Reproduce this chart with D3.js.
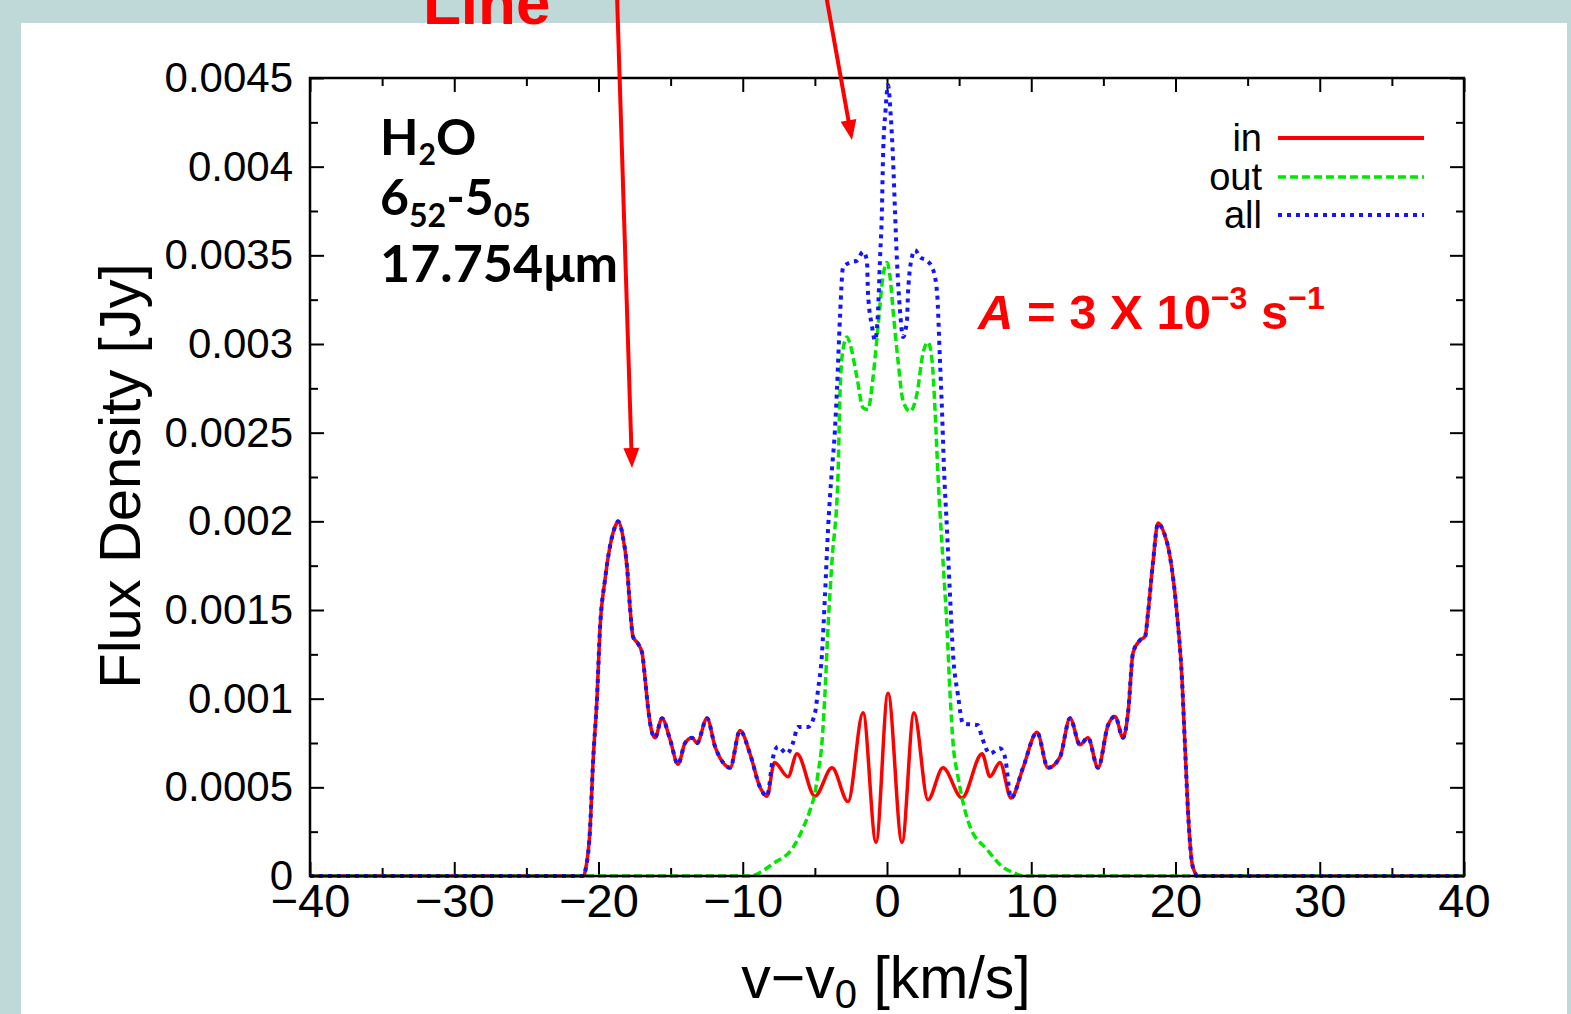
<!DOCTYPE html>
<html>
<head>
<meta charset="utf-8">
<script src="https://cdn.jsdelivr.net/npm/d3@7"></script>
<style>
  html, body { margin: 0; padding: 0; background: #bfd8d8; }
  svg { display: block; }
</style>
</head>
<body>
<svg id="chart" width="1571" height="1014"></svg>
<script>
// H2O 6(52)-5(05) 17.754 µm line profile: flux density vs. velocity offset

// velocity [km/s], flux density [Jy] — emission from inside the snow line
const inSeries = [
  [-40, 0], [-21.0, 0], [-20.94, 0.00002], [-20.59, 0.00026], [-20.38, 0.00064],
  [-20.10, 0.00101], [-19.90, 0.00139], [-19.55, 0.00167], [-19.20, 0.00186],
  [-18.85, 0.00197], [-18.64, 0.00200], [-18.30, 0.00191], [-18.02, 0.00174],
  [-17.82, 0.00152], [-17.61, 0.00135], [-17.26, 0.00131], [-16.98, 0.00126],
  [-16.78, 0.00112], [-16.57, 0.00095], [-16.29, 0.00081], [-16.08, 0.00078],
  [-15.60, 0.00089], [-15.04, 0.00077], [-14.49, 0.00063], [-14.00, 0.00075],
  [-13.52, 0.00078], [-13.17, 0.00075], [-12.48, 0.00089], [-11.92, 0.00073],
  [-11.37, 0.00064], [-10.88, 0.00061], [-10.19, 0.00082], [-9.50, 0.00069],
  [-8.80, 0.00050], [-8.32, 0.00045], [-7.80, 0.00064], [-6.86, 0.00056],
  [-6.24, 0.00069], [-4.99, 0.00045], [-3.81, 0.00061], [-2.70, 0.00042],
  [-1.66, 0.00092], [-0.76, 0.00019], [0.07, 0.00103], [1.04, 0.00019],
  [1.87, 0.00092], [2.84, 0.00043], [3.88, 0.00061], [5.20, 0.00044],
  [6.59, 0.00069], [7.14, 0.00056], [7.83, 0.00064], [8.60, 0.00044],
  [9.43, 0.00061], [10.40, 0.00081], [11.16, 0.00061], [11.99, 0.00067],
  [12.69, 0.00089], [13.38, 0.00074], [13.93, 0.00078], [14.63, 0.00061],
  [15.32, 0.00085], [15.81, 0.00090], [16.36, 0.00078], [16.71, 0.00092],
  [17.06, 0.00126], [17.54, 0.00133], [17.89, 0.00135], [18.09, 0.00148],
  [18.44, 0.00177], [18.79, 0.00199], [19.13, 0.00195], [19.62, 0.00180],
  [20.10, 0.00148], [20.45, 0.00111], [20.66, 0.00073], [20.87, 0.00036],
  [21.15, 0.00007], [21.35, 0.00002], [21.5, 0], [40, 0]
];

// emission from outside the snow line
const outSeries = [
  [-40, 0], [-9.5, 0], [-8.80, 0.00002], [-7.90, 0.00007], [-6.52, 0.00016],
  [-5.82, 0.00027], [-5.30, 0.00038], [-4.99, 0.00047], [-4.78, 0.00058],
  [-4.51, 0.00075], [-4.30, 0.00103], [-4.09, 0.00140], [-3.81, 0.00178],
  [-3.40, 0.00225], [-3.26, 0.00272], [-3.05, 0.00297], [-2.77, 0.00304],
  [-2.56, 0.00300], [-2.08, 0.00281], [-1.66, 0.00264], [-1.32, 0.00263],
  [-0.97, 0.00281], [-0.62, 0.00310], [-0.28, 0.00338], [0, 0.00346],
  [0.21, 0.00338], [0.42, 0.00319], [0.76, 0.00291], [1.11, 0.00268],
  [1.59, 0.00262], [2.08, 0.00272], [2.50, 0.00295], [2.84, 0.00301],
  [3.12, 0.00291], [3.33, 0.00263], [3.54, 0.00225], [3.88, 0.00178],
  [4.16, 0.00140], [4.37, 0.00103], [4.58, 0.00075], [4.92, 0.00056],
  [5.20, 0.00044], [5.75, 0.00028], [6.93, 0.00015], [8.04, 0.00005],
  [8.73, 0.00002], [9.5, 0], [40, 0]
];

// total emission
const allSeries = [
  [-40, 0], [-21.0, 0], [-20.94, 0.00002], [-20.59, 0.00026], [-20.38, 0.00064],
  [-20.10, 0.00101], [-19.90, 0.00139], [-19.55, 0.00167], [-19.20, 0.00186],
  [-18.85, 0.00197], [-18.64, 0.00200], [-18.30, 0.00191], [-18.02, 0.00174],
  [-17.82, 0.00152], [-17.61, 0.00135], [-17.26, 0.00131], [-16.98, 0.00126],
  [-16.78, 0.00112], [-16.57, 0.00095], [-16.29, 0.00081], [-16.08, 0.00078],
  [-15.60, 0.00089], [-15.04, 0.00077], [-14.49, 0.00063], [-14.00, 0.00075],
  [-13.52, 0.00078], [-13.17, 0.00075], [-12.48, 0.00089], [-11.92, 0.00073],
  [-11.37, 0.00064], [-10.88, 0.00061], [-10.19, 0.00082], [-9.50, 0.00069],
  [-8.80, 0.00050], [-8.32, 0.00045], [-7.90, 0.00067], [-7.56, 0.00073],
  [-6.93, 0.00069], [-6.52, 0.00075], [-6.17, 0.00084], [-5.48, 0.00084],
  [-4.99, 0.00092], [-4.78, 0.00105], [-4.51, 0.00125], [-4.30, 0.00158],
  [-4.09, 0.00195], [-3.81, 0.00230], [-3.66, 0.00245], [-3.47, 0.00274],
  [-3.26, 0.00315], [-3.05, 0.00343], [-2.56, 0.00346], [-2.08, 0.00347],
  [-1.66, 0.00352], [-1.39, 0.00347], [-1.32, 0.00329], [-1.04, 0.00310],
  [-0.83, 0.00302], [-0.62, 0.00319], [-0.49, 0.00347], [-0.35, 0.00376],
  [-0.28, 0.00404], [-0.10, 0.00432], [0.07, 0.00446], [0.25, 0.00430],
  [0.42, 0.00404], [0.55, 0.00376], [0.69, 0.00347], [0.90, 0.00319],
  [1.11, 0.00304], [1.39, 0.00314], [1.46, 0.00329], [1.73, 0.00349],
  [1.94, 0.00353], [2.29, 0.00349], [2.77, 0.00347], [3.19, 0.00342],
  [3.47, 0.00329], [3.67, 0.00291], [3.81, 0.00263], [3.95, 0.00230],
  [4.16, 0.00195], [4.37, 0.00158], [4.58, 0.00125], [4.92, 0.00102],
  [5.27, 0.00086], [6.31, 0.00085], [6.59, 0.00078], [7.14, 0.00069],
  [7.83, 0.00072], [8.18, 0.00067], [8.60, 0.00044],
  [9.43, 0.00061], [10.40, 0.00081], [11.16, 0.00061], [11.99, 0.00067],
  [12.69, 0.00089], [13.38, 0.00074], [13.93, 0.00078], [14.63, 0.00061],
  [15.32, 0.00085], [15.81, 0.00090], [16.36, 0.00078], [16.71, 0.00092],
  [17.06, 0.00126], [17.54, 0.00133], [17.89, 0.00135], [18.09, 0.00148],
  [18.44, 0.00177], [18.79, 0.00199], [19.13, 0.00195], [19.62, 0.00180],
  [20.10, 0.00148], [20.45, 0.00111], [20.66, 0.00073], [20.87, 0.00036],
  [21.15, 0.00007], [21.35, 0.00002], [21.5, 0], [40, 0]
];

const seriesNames = ["in", "out", "all"];
const seriesColors = ["#ff0000", "#00e800", "#1414ff"];

const xMajorTicks = [-40, -30, -20, -10, 0, 10, 20, 30, 40];
const xTickLabels = ["\u221240", "\u221230", "\u221220", "\u221210", "0", "10", "20", "30", "40"];
const xMinorTicks = [-35, -25, -15, -5, 5, 15, 25, 35];
const yMajorTicks = [0, 0.0005, 0.001, 0.0015, 0.002, 0.0025, 0.003, 0.0035, 0.004, 0.0045];
const yTickLabels = ["0", "0.0005", "0.001", "0.0015", "0.002", "0.0025", "0.003", "0.0035", "0.004", "0.0045"];
const yMinorTicks = [0.00025, 0.00075, 0.00125, 0.00175, 0.00225, 0.00275, 0.00325, 0.00375, 0.00425];

const svg = d3.select("#chart");

// slide panel
svg.append("rect").attr("x", 0).attr("y", 0).attr("width", 1571).attr("height", 1014).attr("fill", "#bfd8d8");
svg.append("rect").attr("x", 21).attr("y", 23).attr("width", 1546).attr("height", 1000).attr("fill", "#ffffff");

const plot = { left: 310, right: 1464, top: 78, bottom: 876 };
const x = d3.scaleLinear().domain([-40, 40]).range([plot.left, plot.right]);
const y = d3.scaleLinear().domain([0, 0.0045]).range([plot.bottom, plot.top]);

const axisFont = "'Liberation Sans', Arial, Helvetica, sans-serif";

// ticks (inward on all four sides)
function drawAxis(axis, tx, ty) {
  const g = svg.append("g").attr("transform", `translate(${tx},${ty})`).call(axis);
  g.select(".domain").remove();
  g.selectAll(".tick line").attr("stroke", "#000").attr("stroke-width", 2);
  return g;
}
const majLen = 14, minLen = 8;

const xb = drawAxis(d3.axisBottom(x).tickValues(xMajorTicks).tickSize(-majLen)
  .tickFormat((d, i) => xTickLabels[i]).tickPadding(8), 0, plot.bottom);
xb.selectAll("text").attr("font-family", axisFont).attr("font-size", 47).attr("fill", "#000");
drawAxis(d3.axisBottom(x).tickValues(xMinorTicks).tickSize(-minLen).tickFormat(""), 0, plot.bottom);
drawAxis(d3.axisTop(x).tickValues(xMajorTicks).tickSize(-majLen).tickFormat(""), 0, plot.top);
drawAxis(d3.axisTop(x).tickValues(xMinorTicks).tickSize(-minLen).tickFormat(""), 0, plot.top);

const yl = drawAxis(d3.axisLeft(y).tickValues(yMajorTicks).tickSize(-majLen)
  .tickFormat((d, i) => yTickLabels[i]).tickPadding(17), plot.left, 0);
yl.selectAll("text").attr("font-family", axisFont).attr("font-size", 42).attr("fill", "#000");
drawAxis(d3.axisLeft(y).tickValues(yMinorTicks).tickSize(-minLen).tickFormat(""), plot.left, 0);
drawAxis(d3.axisRight(y).tickValues(yMajorTicks).tickSize(-majLen).tickFormat(""), plot.right, 0);
drawAxis(d3.axisRight(y).tickValues(yMinorTicks).tickSize(-minLen).tickFormat(""), plot.right, 0);

// curves
const line = d3.line().x(d => x(d[0])).y(d => y(d[1])).curve(d3.curveMonotoneX);
const styles = [
  { dash: null, width: 3.5 },
  { dash: "8,4", width: 3.5 },
  { dash: "4,5", width: 4 }
];
[inSeries, outSeries, allSeries].forEach((s, i) => {
  svg.append("path").datum(s)
    .attr("d", line)
    .attr("fill", "none")
    .attr("stroke", seriesColors[i])
    .attr("stroke-width", styles[i].width)
    .attr("stroke-dasharray", styles[i].dash)
    .attr("stroke-linejoin", "round");
});

// frame
svg.append("rect")
  .attr("x", plot.left).attr("y", plot.top)
  .attr("width", plot.right - plot.left).attr("height", plot.bottom - plot.top)
  .attr("fill", "none").attr("stroke", "#000").attr("stroke-width", 2.5);

// legend
const legendY = [138, 177, 215];
seriesNames.forEach((name, i) => {
  svg.append("text").attr("x", 1262).attr("y", legendY[i] + 13)
    .attr("text-anchor", "end").attr("font-family", axisFont).attr("font-size", 38)
    .attr("fill", "#000").text(name);
  svg.append("line").attr("x1", 1278).attr("x2", 1424)
    .attr("y1", legendY[i]).attr("y2", legendY[i])
    .attr("stroke", seriesColors[i]).attr("stroke-width", i === 0 ? 4 : (i === 2 ? 4 : 3.5))
    .attr("stroke-dasharray", styles[i].dash);
});

// axis titles
svg.append("text")
  .attr("transform", "translate(140,476) rotate(-90)")
  .attr("text-anchor", "middle").attr("font-family", axisFont).attr("font-size", 58)
  .attr("fill", "#000").text("Flux Density [Jy]");

const xt = svg.append("text").attr("x", 886).attr("y", 998)
  .attr("text-anchor", "middle").attr("font-family", axisFont).attr("font-size", 59).attr("fill", "#000");
xt.append("tspan").text("v\u2212v");
xt.append("tspan").attr("font-size", 40).attr("dy", 10).text("0");
xt.append("tspan").attr("dy", -10).text(" [km/s]");

// line identification
const labelFont = "Lato, 'Open Sans', sans-serif";
const h2o = svg.append("text").attr("x", 380).attr("y", 155)
  .attr("font-family", labelFont).attr("font-weight", 700).attr("font-size", 50).attr("fill", "#000");
h2o.append("tspan").text("H");
h2o.append("tspan").attr("font-size", 30).attr("dy", 10).text("2");
h2o.append("tspan").attr("dy", -10).text("O");

const trans = svg.append("text").attr("x", 380).attr("y", 215)
  .attr("font-family", labelFont).attr("font-weight", 700).attr("font-size", 50).attr("fill", "#000");
trans.append("tspan").text("6");
trans.append("tspan").attr("font-size", 32).attr("dy", 12).text("52");
trans.append("tspan").attr("dy", -12).text("-5");
trans.append("tspan").attr("font-size", 32).attr("dy", 12).text("05");

svg.append("text").attr("x", 380).attr("y", 282)
  .attr("font-family", labelFont).attr("font-weight", 700).attr("font-size", 52).attr("fill", "#000")
  .text("17.754\u03bcm");

// Einstein A coefficient
const aText = svg.append("text").attr("x", 978).attr("y", 329)
  .attr("font-family", axisFont).attr("font-weight", 700).attr("font-size", 49).attr("fill", "#ff0000");
aText.append("tspan").attr("font-style", "italic").text("A");
aText.append("tspan").text(" = 3 X 10");
aText.append("tspan").attr("font-size", 32).attr("dy", -20).text("\u22123");
aText.append("tspan").attr("dy", 20).text(" s");
aText.append("tspan").attr("font-size", 32).attr("dy", -20).text("\u22121");

// callout text and arrows
svg.append("text").attr("x", 423).attr("y", 24)
  .attr("font-family", axisFont).attr("font-weight", 700).attr("font-size", 62).attr("fill", "#ff0000")
  .text("Line");

function arrow(x0, y0, x1, y1) {
  const len = Math.hypot(x1 - x0, y1 - y0);
  const ux = (x1 - x0) / len, uy = (y1 - y0) / len;
  const headL = 20, headW = 8;
  const bx = x1 - ux * headL, by = y1 - uy * headL;
  svg.append("line").attr("x1", x0).attr("y1", y0).attr("x2", bx + ux * 2).attr("y2", by + uy * 2)
    .attr("stroke", "#ff0000").attr("stroke-width", 4);
  svg.append("path")
    .attr("d", `M${x1},${y1} L${bx - uy * headW},${by + ux * headW} L${bx + uy * headW},${by - ux * headW} Z`)
    .attr("fill", "#ff0000");
}
arrow(617, -5, 632, 468);
arrow(826, -5, 852, 140);
</script>
</body>
</html>
